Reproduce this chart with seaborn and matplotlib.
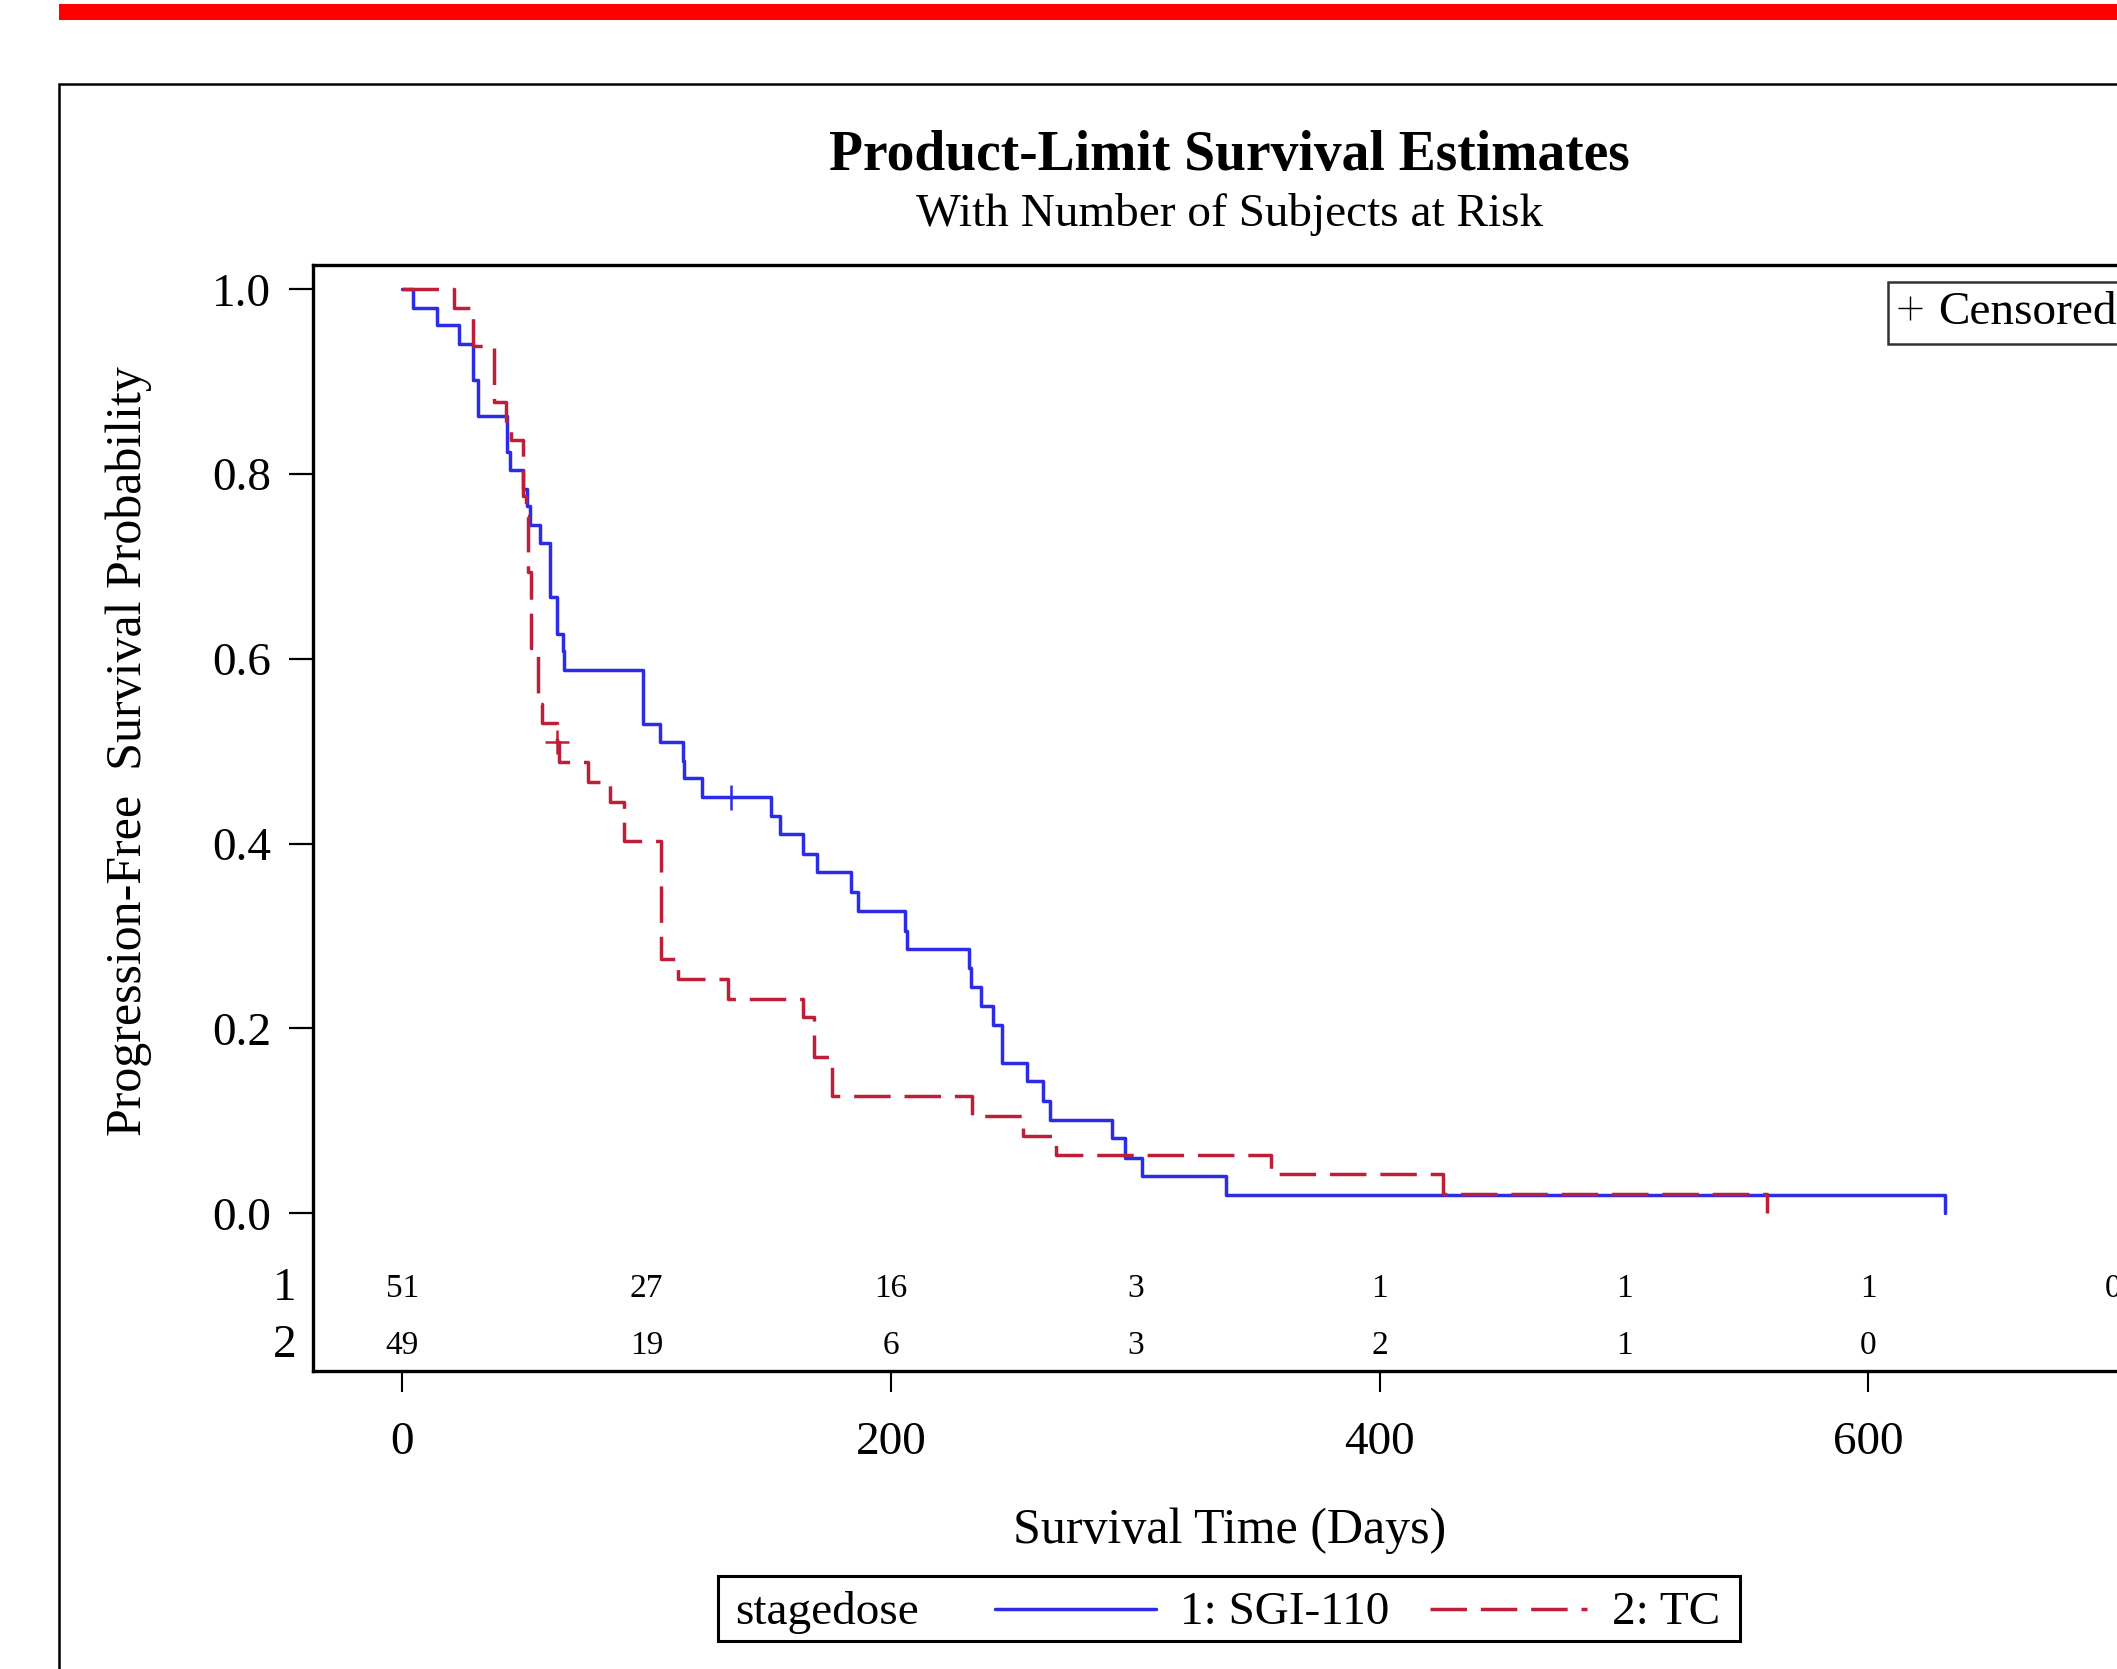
import pandas as pd
import seaborn as sns
import matplotlib.pyplot as plt
import matplotlib.transforms as mtransforms
from matplotlib.lines import Line2D
from matplotlib.patches import Rectangle

# Kaplan-Meier step points (time in days, survival prob)
sgi_time = [0, 4.2, 14.1, 23.3, 28.8, 31.0, 43.0, 44.1, 49.5, 50.9, 52.3, 56.4, 60.4,
            63.2, 65.6, 66.3, 98.4, 105.6, 114.7, 115.3, 122.5, 150.8, 154.6, 163.9,
            169.6, 183.6, 186.6, 205.7, 206.7, 231.7, 232.8, 236.9, 241.6, 245.5,
            255.8, 262.0, 265.1, 290.6, 295.8, 302.7, 337.1, 631.5]
sgi_surv = [1.0, 0.980, 0.961, 0.941, 0.902, 0.863, 0.824, 0.804, 0.784, 0.765, 0.745,
            0.725, 0.667, 0.627, 0.608, 0.588, 0.529, 0.510, 0.490, 0.471, 0.450, 0.430,
            0.410, 0.389, 0.369, 0.348, 0.327, 0.306, 0.286, 0.265, 0.245, 0.224, 0.204,
            0.163, 0.143, 0.122, 0.101, 0.081, 0.060, 0.040, 0.020, 0.0]
tc_time = [0, 21.2, 28.8, 37.6, 42.4, 44.4, 49.5, 50.5, 51.5, 52.8, 55.7, 57.0, 63.2,
           64.3, 76.1, 85.0, 90.7, 105.8, 113.0, 133.4, 164.1, 168.6, 175.7, 233.0,
           253.8, 267.6, 355.3, 425.8, 558.4]
tc_surv = [1.0, 0.980, 0.939, 0.878, 0.857, 0.837, 0.776, 0.755, 0.694, 0.612, 0.551,
           0.531, 0.510, 0.488, 0.467, 0.445, 0.403, 0.275, 0.254, 0.232, 0.212, 0.169,
           0.127, 0.105, 0.084, 0.063, 0.042, 0.021, 0.0]

groups = ['1: SGI-110', '2: TC']
censor_time = [134.4, 63.2]
censor_surv = [0.450, 0.510]
censor_group = ['1: SGI-110', '2: TC']

risk_time = [0, 100, 200, 300, 400, 500, 600, 700]
risk_sgi = [51, 27, 16, 3, 1, 1, 1, 0]
risk_tc = [49, 19, 6, 3, 2, 1, 0]

blue = '#2B2BE8'
red = '#BE1E37'
palette = {groups[0]: blue, groups[1]: red}
dashes = {groups[0]: '', groups[1]: (10.5, 4.0)}

sns.set_style('white')
plt.rcParams['font.family'] = ['Liberation Serif', 'DejaVu Serif']
plt.rcParams.update({'text.color': 'black', 'axes.labelcolor': 'black',
                     'xtick.color': 'black', 'ytick.color': 'black',
                     'axes.edgecolor': 'black'})

W, H = 2117, 1669


def fx(px):
    return px / W


def fy(px):
    return 1 - px / H


fig = plt.figure(figsize=(W / 100, H / 100), dpi=100)

# page decoration: red band and outer frame
fig.add_artist(Rectangle((fx(59.4), fy(20)), 1.0, 16 / H, transform=fig.transFigure,
                         color='#FF0000', lw=0))
fig.add_artist(Rectangle((fx(59.4), -0.1), 1.2, fy(84.5) + 0.1, transform=fig.transFigure,
                         fill=False, lw=1.8, ec='black'))

ax = fig.add_axes([fx(312.7), fy(1371), fx(2147) - fx(312.7), fy(265) - fy(1371)])

curves = pd.DataFrame({
    'time': sgi_time + tc_time,
    'surv': sgi_surv + tc_surv,
    'stagedose': [groups[0]] * len(sgi_time) + [groups[1]] * len(tc_time),
})
sns.lineplot(data=curves, x='time', y='surv', hue='stagedose', style='stagedose',
             palette=palette, dashes=dashes, estimator=None, drawstyle='steps-post',
             lw=2.5, legend=False, ax=ax)
sns.scatterplot(x=censor_time, y=censor_surv, hue=censor_group, palette=palette,
                marker='+', s=300, linewidth=1.8, legend=False, ax=ax, zorder=3)

ax.set_xlim(-36.7, 714)
ax.set_ylim(-0.1707, 1.0263)
ax.set_xticks([0, 200, 400, 600])
ax.set_yticks([0, 0.2, 0.4, 0.6, 0.8, 1.0])
ax.set_yticklabels([f'{v:.1f}' for v in [0, 0.2, 0.4, 0.6, 0.8, 1.0]])
ax.tick_params(axis='y', length=17, width=1.6, pad=13, labelsize=34, left=True)
ax.tick_params(axis='x', length=15, width=1.5, pad=21, labelsize=34, bottom=True)
for side in ['top', 'left', 'bottom', 'right']:
    ax.spines[side].set_linewidth(2.4)
    ax.spines[side].set_color('black')

ax.set_xlabel('Survival Time (Days)', fontsize=36, va='baseline')
ax.xaxis.set_label_coords(0.5, -0.1558)
ax.set_ylabel('Progression-Free  Survival Probability', fontsize=36, va='baseline')
ax.yaxis.set_label_coords(-0.0936, 0.5603)

# number at risk rows inside the plot frame
row_y = [-0.0820, -0.1435]
trans = mtransforms.blended_transform_factory(ax.transAxes, ax.transData)
for y, counts, lab in zip(row_y, [risk_sgi, risk_tc], ['1', '2']):
    for t, n in zip(risk_time, counts):
        ax.text(t, y, str(n), ha='center', va='center', fontsize=24)
    ax.text(-0.009, y, lab, transform=trans, ha='right', va='center', fontsize=34)

# censored legend
cens_handle = Line2D([], [], marker='+', ls='none', color='black', markersize=17, mew=1.0)
leg = ax.legend(handles=[cens_handle], labels=['Censored'], loc='upper left',
                bbox_to_anchor=(0.859, 0.9849), borderaxespad=0, fontsize=34,
                frameon=True, fancybox=False, handlelength=0.5, handletextpad=0.35,
                borderpad=0.2)
leg.get_frame().set_edgecolor('black')
leg.get_frame().set_linewidth(1.8)

# titles
fig.text(fx(1229.6), fy(170), 'Product-Limit Survival Estimates', ha='center',
         va='baseline', fontsize=40, fontweight='bold')
fig.text(fx(1229.2), fy(226), 'With Number of Subjects at Risk', ha='center',
         va='baseline', fontsize=34)

# bottom group legend
fig.add_artist(Rectangle((fx(717.5), fy(1641)), fx(1740.4) - fx(717.5), fy(1576) - fy(1641),
                         transform=fig.transFigure, facecolor='white', lw=2.2, ec='black'))
fig.text(fx(735), fy(1624), 'stagedose', ha='left', va='baseline', fontsize=34)
fig.add_artist(Line2D([fx(994.6), fx(1156)], [fy(1609)] * 2, color=blue, lw=2.5,
                      transform=fig.transFigure))
fig.text(fx(1180.5), fy(1624), groups[0], ha='left', va='baseline', fontsize=34)
fig.add_artist(Line2D([fx(1429.6), fx(1587.4)], [fy(1609)] * 2, color=red, lw=2.5,
                      dashes=(10.5, 4.0), transform=fig.transFigure))
fig.text(fx(1612), fy(1624), groups[1], ha='left', va='baseline', fontsize=34)

fig.savefig('out.png', dpi=100)
